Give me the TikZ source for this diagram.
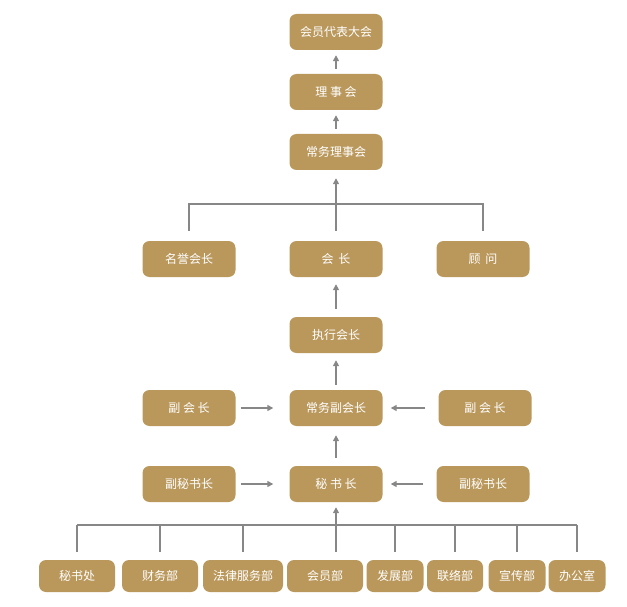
\documentclass[tikz,border=0pt]{standalone}
\usepackage{fontspec}
\usetikzlibrary{arrows.meta}
\newfontfamily\cjk{Noto Sans CJK SC}
\definecolor{gold}{RGB}{186,152,92}
\definecolor{linegray}{RGB}{135,135,135}

\begin{document}
\begin{tikzpicture}[x = 1pt, y = -1pt,
    box/.style = {shape = rectangle, rounded corners = 7pt, fill = gold, text = white,
        font = \cjk\fontsize{12}{14}\selectfont, inner sep = 0pt,
        minimum width = 93pt, minimum height = 36pt},
    dept/.style = {box, minimum width = 76pt, minimum height = 32pt},
    link/.style = {draw = linegray, line width = 1.7pt},
    arr/.style = {link, -{Triangle[length = 6pt, width = 6pt]}}]
    \useasboundingbox (0,0) rectangle (627,607);
    % upper chain
    \node[box] (dbdh)     at (336,32)  {会员代表大会};
    \node[box] (lsh)      at (336,92)  {理 事 会};
    \node[box] (cwlsh)    at (336,152) {常务理事会};
    \node[box] (mingyu)   at (189,259) {名誉会长};
    \node[box] (huizhang) at (336,259) {会\hspace{5pt}长};
    \node[box] (guwen)    at (483,259) {顾\hspace{5pt}问};
    \node[box] (zxhz)     at (336,335) {执行会长};
    \node[box] (fhzl)     at (189,408) {副 会 长};
    \node[box] (cwfhz)    at (336,408) {常务副会长};
    \node[box] (fhzr)     at (485,408) {副 会 长};
    \node[box] (fmszl)    at (189,484) {副秘书长};
    \node[box] (msz)      at (336,484) {秘 书 长};
    \node[box] (fmszr)    at (483,484) {副秘书长};
    % departments
    \node[dept] (mishuchu) at (77,576)  {秘书处};
    \node[dept] (caiwu)    at (160,576) {财务部};
    \node[dept, minimum width = 80pt] (falv) at (243,576) {法律服务部};
    \node[dept] (huiyuan)  at (325,576) {会员部};
    \node[dept, minimum width = 57pt] (fazhan)   at (395,576) {发展部};
    \node[dept, minimum width = 56pt] (lianluo)  at (455,576) {联络部};
    \node[dept, minimum width = 57pt] (xuanchuan) at (517,576) {宣传部};
    \node[dept, minimum width = 57pt] (bangong)  at (577,576) {办公室};

    \draw[arr] (lsh) ++(0,-23) -- ([yshift=-5pt]dbdh.south);
    \draw[arr] (cwlsh) ++(0,-23) -- ([yshift=-5pt]lsh.south);
    \coordinate (bar1) at (336,204);
    \draw[link] ([yshift=10pt]mingyu.north) |- (bar1) -| ([yshift=10pt]guwen.north);
    \draw[arr] ([yshift=10pt]huizhang.north) -- ([yshift=-8pt]cwlsh.south);
    \draw[arr] ([yshift=8pt]zxhz.north) -- ([yshift=-7pt]huizhang.south);
    \draw[arr] ([yshift=5pt]cwfhz.north) -- ([yshift=-7pt]zxhz.south);
    \draw[arr] ([xshift=5pt]fhzl.east) -- ([xshift=-16pt]cwfhz.west);
    \draw[arr] ([xshift=-13pt]fhzr.west) -- ([xshift=8pt]cwfhz.east);
    \draw[arr] ([yshift=8pt]msz.north) -- ([yshift=-9pt]cwfhz.south);
    \draw[arr] ([xshift=5pt]fmszl.east) -- ([xshift=-16pt]msz.west);
    \draw[arr] ([xshift=-13pt]fmszr.west) -- ([xshift=8pt]msz.east);
    % lower bracket
    \coordinate (bar2) at (336,525);
    \draw[link] (mishuchu.north |- bar2) -- (bangong.north |- bar2);
    \foreach \d in {mishuchu, caiwu, falv, fazhan, lianluo, xuanchuan, bangong}
        \draw[link] ([yshift=8pt]\d.north) -- (\d.north |- bar2);
    \draw[arr] ([yshift=8pt]huiyuan.north -| msz) -- ([yshift=-5pt]msz.south);
\end{tikzpicture}
\end{document}
